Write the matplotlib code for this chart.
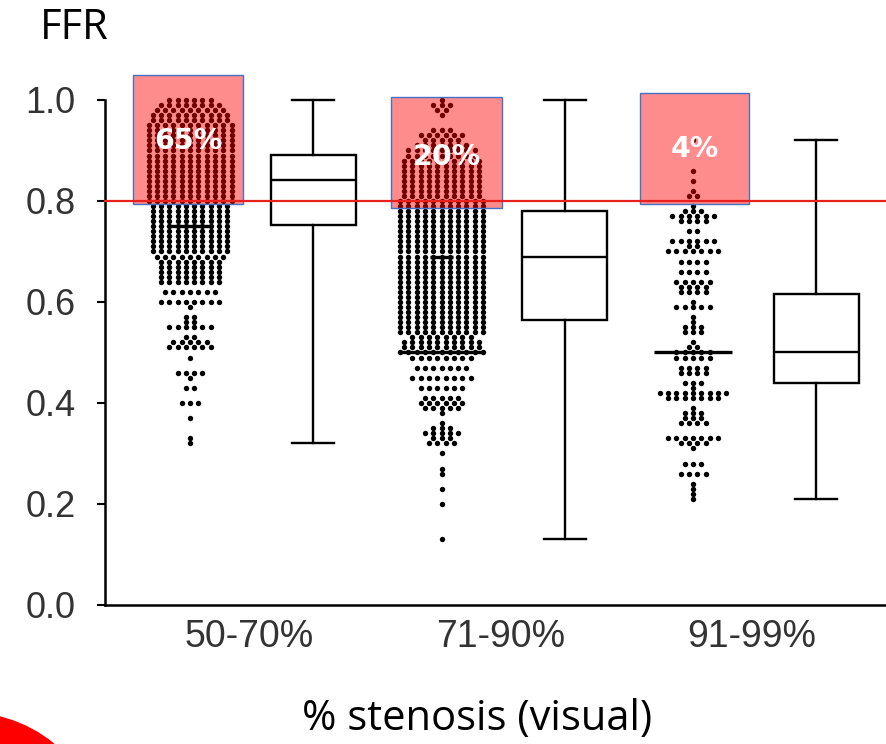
import numpy as np
import matplotlib
matplotlib.use("Agg")
import matplotlib.pyplot as plt
from matplotlib.patches import Rectangle, Ellipse

# ---------------- data ----------------
categories = ["50-70%", "71-90%", "91-99%"]
pct_above = ["65%", "20%", "4%"]
y_ticks = [0.0, 0.2, 0.4, 0.6, 0.8, 1.0]
threshold = 0.8

# dot-plot rows: FFR value -> number of dots in that row
g1_vals = [0.32, 0.33, 0.37, 0.40, 0.43, 0.45, 0.46, 0.49, 0.51, 0.52, 0.53, 0.55, 0.56, 0.57, 0.59,
           0.60, 0.62, 0.64, 0.65, 0.66, 0.67, 0.68, 0.69, 0.70, 0.71, 0.72, 0.73, 0.74, 0.75,
           0.76, 0.77, 0.78, 0.79, 0.80, 0.81, 0.82, 0.83, 0.84, 0.85, 0.86, 0.87, 0.88, 0.89,
           0.90, 0.91, 0.92, 0.93, 0.94, 0.95, 0.96, 0.97, 0.98, 0.99, 1.00]
g1_cnts = [1, 1, 1, 3, 2, 1, 4, 1, 6, 5, 2, 6, 2, 2, 1,
           8, 7, 8, 8, 8, 8, 8, 9, 10, 10, 10, 10, 10, 10,
           10, 10, 10, 10, 11, 11, 11, 11, 11, 11, 11, 11, 11, 11,
           11, 11, 11, 11, 11, 11, 10, 10, 9, 8, 6]

g2_vals = [0.13, 0.20, 0.23, 0.26, 0.27, 0.30, 0.32, 0.33, 0.34, 0.35, 0.36, 0.38, 0.39, 0.40,
           0.41, 0.43, 0.45, 0.47, 0.49, 0.50, 0.51, 0.52, 0.53, 0.54, 0.55, 0.56, 0.57, 0.58,
           0.59, 0.60, 0.61, 0.62, 0.63, 0.64, 0.65, 0.66, 0.67, 0.68, 0.69, 0.70, 0.71, 0.72,
           0.73, 0.74, 0.75, 0.76, 0.77, 0.78, 0.79, 0.80, 0.81, 0.82, 0.83, 0.84, 0.85, 0.86,
           0.87, 0.88, 0.89, 0.90, 0.91, 0.92, 0.93, 0.94, 0.97, 0.98, 0.99, 1.00]
g2_cnts = [1, 1, 1, 1, 1, 1, 4, 3, 5, 3, 1, 1, 5, 6,
           5, 6, 8, 7, 8, 11, 10, 10, 8, 11, 11, 11, 11, 11,
           11, 11, 11, 11, 11, 11, 11, 11, 11, 11, 11, 11, 11, 11,
           11, 11, 11, 11, 11, 11, 11, 11, 10, 10, 10, 10, 10, 10,
           10, 10, 9, 9, 7, 5, 6, 3, 1, 2, 3, 1]

g3_vals = [0.21, 0.22, 0.23, 0.24, 0.26, 0.28, 0.31, 0.32, 0.33, 0.36, 0.37, 0.38, 0.39, 0.41,
           0.42, 0.43, 0.44, 0.46, 0.47, 0.49, 0.50, 0.51, 0.52, 0.54, 0.55, 0.56, 0.57, 0.59,
           0.60, 0.62, 0.63, 0.64, 0.66, 0.68, 0.70, 0.71, 0.72, 0.74, 0.76, 0.77, 0.78, 0.79,
           0.81, 0.82, 0.84, 0.86, 0.92]
g3_cnts = [1, 1, 1, 1, 4, 3, 1, 4, 7, 4, 3, 3, 1, 7,
           9, 1, 3, 4, 4, 5, 5, 2, 1, 3, 3, 1, 1, 5,
           1, 4, 4, 5, 4, 4, 7, 2, 6, 2, 4, 6, 3, 1,
           2, 1, 1, 1, 1]

# horizontal marker lines drawn inside dot columns
g1_marks = [0.75]
g2_marks = [0.50, 0.69]
g3_marks = [0.50]

# box plot statistics (whisker low, Q1, median, Q3, whisker high)
box_low = [0.32, 0.13, 0.21]
box_q1 = [0.752, 0.565, 0.44]
box_med = [0.842, 0.69, 0.50]
box_q3 = [0.891, 0.78, 0.615]
box_high = [1.00, 1.00, 0.92]

# ---------------- figure ----------------
W, H = 887, 744
fig = plt.figure(figsize=(W / 100, H / 100), dpi=100)
ax = fig.add_axes([105 / W, (H - 605) / H, (W - 105) / W, (605 - 70) / H])
ax.set_ylim(0, 1.0594)
ax.set_xlim(0.662, 3.771)

pos = np.array([1.0, 2.0, 3.0])
box_off = 0.49
dx = 0.033

groups = [(g1_vals, g1_cnts, g1_marks, [0.08]),
          (g2_vals, g2_cnts, g2_marks, [0.165, 0.045]),
          (g3_vals, g3_cnts, g3_marks, [0.155])]

for gi, (vals, cnts, marks, mwid) in enumerate(groups):
    xs, ys = [], []
    for v, n in zip(vals, cnts):
        for i in range(n):
            xs.append(pos[gi] + (i - (n - 1) / 2) * dx)
            ys.append(v)
    ax.scatter(xs, ys, s=15, c="black", marker="o", linewidths=0, zorder=3)
    for m, w in zip(marks, mwid):
        ax.plot([pos[gi] - w, pos[gi] + w], [m, m], color="black", lw=2.4, zorder=3,
                solid_capstyle="butt")

stats = []
for i in range(3):
    stats.append(dict(med=box_med[i], q1=box_q1[i], q3=box_q3[i],
                      whislo=box_low[i], whishi=box_high[i], fliers=[]))
lw = 1.7
ax.bxp(stats, positions=pos + box_off, widths=0.337, capwidths=0.167, showfliers=False,
       patch_artist=True,
       boxprops=dict(facecolor="white", edgecolor="black", linewidth=lw),
       medianprops=dict(color="black", linewidth=lw),
       whiskerprops=dict(color="black", linewidth=lw),
       capprops=dict(color="black", linewidth=lw), manage_ticks=False)

# red highlight rectangles + percentages
rect_y = [(0.795, 1.05), (0.787, 1.006), (0.795, 1.014)]
rect_x = [(-0.227, 0.21), (-0.20, 0.24), (-0.21, 0.223)]
txt_y = [0.918, 0.888, 0.902]
for i in range(3):
    x0, x1 = pos[i] + rect_x[i][0], pos[i] + rect_x[i][1]
    y0, y1 = rect_y[i]
    ax.add_patch(Rectangle((x0, y0), x1 - x0, y1 - y0, facecolor=(1, 0, 0, 0.45),
                           edgecolor="#4472C4", linewidth=1.0, zorder=4, clip_on=False))
    ax.text((x0 + x1) / 2, txt_y[i], pct_above[i], color="white", fontsize=20.5,
            fontweight="bold", family="DejaVu Sans", ha="center", va="center", zorder=6)

ax.axhline(threshold, color="#E8201E", lw=1.6, zorder=5, clip_on=False)

# axes styling
for s in ["top", "right"]:
    ax.spines[s].set_visible(False)
ax.spines["left"].set_bounds(0, 1.0)
ax.spines["left"].set_linewidth(1.8)
ax.spines["bottom"].set_linewidth(1.8)
ax.set_yticks(y_ticks)
ax.set_yticklabels([f"{v:.1f}" for v in y_ticks], family="Liberation Sans",
                   fontsize=26, color="#333333")
ax.tick_params(axis="y", length=6, width=1.5, pad=15)
ax.set_xticks(pos + 0.235)
ax.set_xticklabels(categories, family="Liberation Sans", fontsize=27, color="#333333")
ax.tick_params(axis="x", length=0, pad=10)

fig.text(40 / W, 1 - 28 / H, "FFR", family="Open Sans", fontsize=30, ha="left",
         va="center", color="black")
fig.text(477 / W, 1 - 719 / H, "% stenosis (visual)", family="Open Sans", fontsize=30,
         ha="center", va="center", color="black")

fig.add_artist(Ellipse((-33 / W, 1 - 850 / H), 2 * 137 / W, 2 * 137 / H,
                       transform=fig.transFigure, color="red", clip_on=False))

fig.savefig("out.png", dpi=100)
